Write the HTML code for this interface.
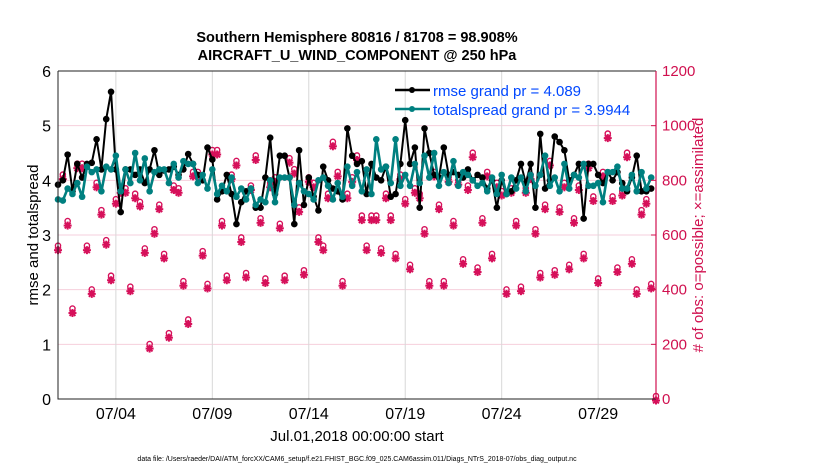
<!DOCTYPE html>
<html><head><meta charset="utf-8"><style>
body{margin:0;background:#fff}
svg{display:block;font-family:"Liberation Sans",sans-serif}
</style></head><body>
<svg id="chart" width="830" height="470" viewBox="0 0 830 470">
<text x="357" y="42" text-anchor="middle" font-size="14.5" font-weight="bold">Southern Hemisphere 80816 / 81708 = 98.908%</text>
<text x="357" y="60" text-anchor="middle" font-size="14.5" font-weight="bold">AIRCRAFT_U_WIND_COMPONENT @ 250 hPa</text>
<g id="grid"></g>
<g id="obs"></g>
<g id="lines"></g>
<g id="axes"></g>
<text transform="translate(38,235) rotate(-90)" text-anchor="middle" font-size="15">rmse and totalspread</text>
<text transform="translate(703,235) rotate(-90)" text-anchor="middle" font-size="15" fill="#d0104f"># of obs: o=possible; ×=assimilated</text>
<text x="357" y="441" text-anchor="middle" font-size="15">Jul.01,2018 00:00:00 start</text>
<text x="357" y="461" text-anchor="middle" font-size="7">data file: /Users/raeder/DAI/ATM_forcXX/CAM6_setup/f.e21.FHIST_BGC.f09_025.CAM6assim.011/Diags_NTrS_2018-07/obs_diag_output.nc</text>
<g>
<line x1="395" y1="90" x2="430" y2="90" stroke="#000" stroke-width="2.5"/><circle cx="412" cy="90" r="3" fill="#000"/>
<text x="433" y="96" font-size="15" fill="#0047ff">rmse grand pr = 4.089</text>
<line x1="395" y1="109" x2="430" y2="109" stroke="#008080" stroke-width="2.5"/><circle cx="412" cy="109" r="3" fill="#008080"/>
<text x="433" y="115" font-size="15" fill="#0047ff">totalspread grand pr = 3.9944</text>
</g>
</svg>
<script>
const rmse=[3.92,4.0,4.47,3.8,4.3,4.05,4.3,4.32,4.75,4.2,5.12,5.62,4.2,3.42,4.2,4.2,4.1,4.2,3.95,4.2,4.55,4.1,4.18,4.2,4.25,4.1,4.2,4.48,4.3,4.1,4.0,4.6,4.38,3.65,3.8,4.1,3.75,3.2,3.6,3.8,3.85,3.5,3.5,4.05,4.78,3.75,4.45,4.45,4.05,3.2,4.55,3.55,4.05,3.7,3.45,4.25,4.0,3.85,3.8,3.65,4.95,4.45,4.3,4.35,3.75,4.3,4.05,4.0,4.25,3.7,3.75,4.3,5.1,4.3,4.6,3.5,4.95,4.5,4.1,4.05,4.6,4.1,4.15,4.1,4.05,4.2,4.0,4.1,4.05,3.85,4.0,3.5,4.0,3.75,3.8,4.0,4.3,3.95,4.3,3.5,4.85,3.85,4.0,4.8,4.7,4.55,4.0,4.1,4.3,3.3,4.3,4.3,4.1,3.95,4.15,4.0,4.15,3.95,3.8,4.05,4.45,3.8,3.8,3.85];
const spread=[3.65,3.63,3.85,3.75,3.95,3.7,4.25,4.15,4.2,3.8,4.25,4.2,4.45,3.8,4.2,3.95,4.5,4.0,4.4,3.8,4.15,4.2,4.2,3.95,4.3,4.05,4.35,4.3,4.3,3.95,4.1,3.85,4.2,3.75,3.9,3.8,4.05,3.7,3.85,3.65,3.85,3.55,3.65,3.6,4.0,3.6,4.05,4.05,4.05,3.55,3.95,3.8,3.75,3.65,4.0,4.05,3.9,3.65,3.95,3.7,4.25,3.9,4.15,3.8,4.2,3.75,4.75,4.2,4.25,3.95,4.75,3.9,4.1,3.9,4.3,3.95,4.45,4.05,4.5,3.9,4.15,3.95,4.35,3.9,4.15,4.1,4.0,3.9,3.95,3.8,4.05,3.75,4.1,3.75,4.05,3.85,4.05,3.8,4.1,3.9,4.1,4.45,3.9,4.05,3.8,4.3,3.85,4.1,4.05,4.3,3.9,3.9,3.95,3.6,4.15,4.15,4.25,3.85,3.85,4.1,3.8,4.15,3.85,4.05];
const obsLeftUnits=[2.75,4.05,3.2,1.6,4.25,4.25,2.75,1.95,3.9,3.4,2.85,2.2,3.6,3.8,3.8,2.0,3.7,3.55,2.7,0.95,3.05,3.5,2.6,1.15,3.85,3.8,2.1,1.4,4.1,4.1,2.65,2.05,4.5,4.5,3.2,2.2,4.05,4.3,2.9,2.25,3.85,4.4,3.25,2.15,3.9,4.0,3.15,2.2,4.35,4.15,3.45,2.3,4.0,3.9,2.9,2.75,3.7,4.65,4.1,2.1,3.7,4.0,4.4,3.3,2.75,3.3,3.3,2.7,3.7,3.3,2.6,4.05,3.6,2.4,3.8,3.7,3.05,2.1,4.1,3.5,2.1,4.0,3.2,3.95,2.5,3.85,4.45,2.35,3.25,4.1,2.6,3.9,3.75,1.95,3.8,3.2,2.0,3.8,4.05,3.05,2.25,3.5,4.3,2.3,3.45,3.9,2.4,3.25,3.85,2.6,4.25,3.65,2.15,4.1,4.8,3.65,2.35,3.75,4.45,2.5,1.95,3.4,3.6,2.05,0];
const obsCount=obsLeftUnits.map(v=>Math.round(v*200));
const leftTicks=[0,1,2,3,4,5,6];
const rightTicks=[0,200,400,600,800,1000,1200];
const dateTicks=[3,8,13,18,23,28];
const dateLabels=["07/04","07/09","07/14","07/19","07/24","07/29"];

const X0=58,X1=656,Y0=399,Y1=71;
const xDay=d=>X0+(X1-X0)*d/31;
const yL=v=>Y0-(Y0-Y1)*v/6;
const yR=v=>Y0-(Y0-Y1)*v/1200;
const NS="http://www.w3.org/2000/svg";
function mk(p,tag,a){const e=document.createElementNS(NS,tag);for(const k in a)e.setAttribute(k,a[k]);p.appendChild(e);return e;}
const grid=document.getElementById('grid'),axes=document.getElementById('axes'),obsG=document.getElementById('obs'),linesG=document.getElementById('lines');

leftTicks.forEach(v=>{
  if(v>0&&v<6){const g=mk(grid,'line',{x1:X0,x2:X1,y1:yL(v),y2:yL(v),stroke:'#f6cfdc','stroke-width':1});
  
  }
  const t=mk(axes,'text',{x:X0-7,y:yL(v)+6,'text-anchor':'end','font-size':16});t.textContent=v;
  
  
});
rightTicks.forEach(v=>{
  const t=mk(axes,'text',{x:X1+6,y:yR(v)+5,'font-size':15,fill:'#d0104f'});t.textContent=v;
  
  
  mk(axes,'line',{x1:X1-5,x2:X1,y1:yR(v),y2:yR(v),stroke:'#d0104f'});
});
dateTicks.forEach((d,i)=>{
  const g=mk(grid,'line',{x1:xDay(d),x2:xDay(d),y1:Y1,y2:Y0,stroke:'#d8d8d8','stroke-width':1});
  
  
  const t=mk(axes,'text',{x:xDay(d),y:Y0+20,'text-anchor':'middle','font-size':16});t.textContent=dateLabels[i];
  
  
});
mk(axes,'path',{d:`M${X0},${Y1}V${Y0}H${X1}`,fill:'none',stroke:'#222','stroke-width':1});
mk(axes,'line',{x1:X0,x2:X1,y1:Y1,y2:Y1,stroke:'#222','stroke-width':1});
mk(axes,'line',{x1:X1,x2:X1,y1:Y1,y2:Y0,stroke:'#d0104f','stroke-width':1.2});

const C='#d6105a';
obsCount.forEach((v,i)=>{
  const x=xDay(i*0.25),y=yR(v);
  const g=mk(obsG,'g',{});
  
  
  mk(g,'circle',{cx:x,cy:y-3,r:2.6,fill:'none',stroke:C,'stroke-width':1.4});
  const ya=y+1.5;
  [[0,4],[4,0],[2.9,2.9],[2.9,-2.9]].forEach(([dx,dy])=>mk(g,'line',{x1:x-dx,y1:ya-dy,x2:x+dx,y2:ya+dy,stroke:C,'stroke-width':2}));
});

function series(vals,color,w,name){
  const pts=vals.map((v,i)=>[xDay(i*0.25),yL(v)]);
  const p=mk(linesG,'polyline',{points:pts.map(p=>p.join(',')).join(' '),fill:'none',stroke:color,'stroke-width':w,'stroke-linejoin':'round'});
  
  
  pts.forEach(([x,y])=>{const c=mk(linesG,'circle',{cx:x,cy:y,r:3.3,fill:color});
  
  });
}
series(rmse,'#000',2,'rmse');
series(spread,'#008080',2.6,'totalspread');
</script>
</body></html>
